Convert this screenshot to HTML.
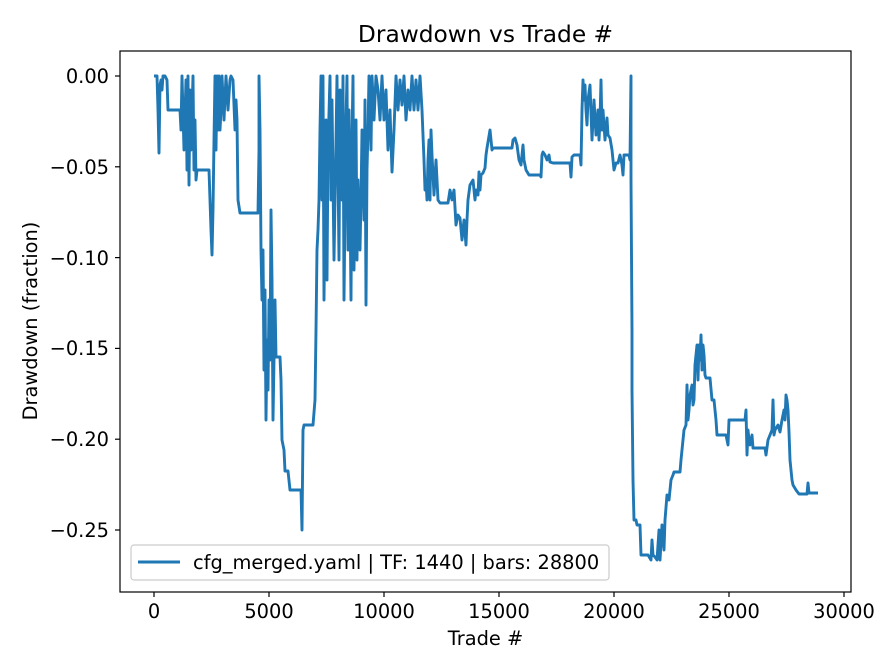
<!DOCTYPE html>
<html><head><meta charset="utf-8"><style>body{margin:0;background:#fff}svg{display:block}text{font-family:"DejaVu Sans","Liberation Sans",sans-serif;fill:#000}</style></head>
<body>
<svg width="896" height="672" viewBox="0 0 896 672" xmlns="http://www.w3.org/2000/svg">
<rect width="896" height="672" fill="#fff"/>
<text x="485.5" y="42" font-size="23.3" text-anchor="middle">Drawdown vs Trade #</text>
<g stroke="#000" stroke-width="1.2">
<line x1="154" y1="592" x2="154" y2="597"/><line x1="269" y1="592" x2="269" y2="597"/><line x1="384" y1="592" x2="384" y2="597"/><line x1="499" y1="592" x2="499" y2="597"/><line x1="614" y1="592" x2="614" y2="597"/><line x1="729" y1="592" x2="729" y2="597"/><line x1="844" y1="592" x2="844" y2="597"/>
<line x1="115" y1="76" x2="120" y2="76"/><line x1="115" y1="166.8" x2="120" y2="166.8"/><line x1="115" y1="257.6" x2="120" y2="257.6"/><line x1="115" y1="348.4" x2="120" y2="348.4"/><line x1="115" y1="439.2" x2="120" y2="439.2"/><line x1="115" y1="530" x2="120" y2="530"/>
</g>
<g font-size="19.4" text-anchor="middle">
<text x="154" y="618">0</text><text x="269" y="618">5000</text><text x="384" y="618">10000</text><text x="499" y="618">15000</text><text x="614" y="618">20000</text><text x="729" y="618">25000</text><text x="844" y="618">30000</text>
</g>
<g font-size="19.4" text-anchor="end">
<text x="109" y="83">0.00</text><text x="109" y="174">−0.05</text><text x="109" y="265">−0.10</text><text x="109" y="355">−0.15</text><text x="109" y="446">−0.20</text><text x="109" y="537">−0.25</text>
</g>
<text x="485.5" y="645" font-size="19.4" text-anchor="middle">Trade #</text>
<text transform="translate(37,321) rotate(-90)" font-size="19.4" text-anchor="middle">Drawdown (fraction)</text>
<polyline fill="none" stroke="#1f77b4" stroke-width="2.9" stroke-linejoin="round" points="154,76 157,76 158,110 159,153 160,85 161,80 162,90 163,76 165,76 167,80 168,110 170,110 180,110 181,130 182,76 184,150 186,80 187,170 188,76 189,185 190,90 191,150 193,76 194,170 195,120 196,180 197,170 198,170 209,170 210,200 211,230 212,255 213,210 214,140 215,76 216,150 217,76 218,130 219,76 220,130 221,110 222,76 224,120 226,76 228,110 230,80 231,76 233,80 235,130 236,100 237,120 238,200 240,213 258,213 259,150 259,76 260,130 261,250 262,300 263,250 264,370 265,290 266,420 267,340 268,390 269,300 270,360 271,210 272,280 273,420 274,360 275,300 276,357 280,357 281,380 282,440 284,450 285,471 288,471 290,490 291,490 301,490 302,530 303,430 304,425 313,425 315,400 316,330 317,250 318,230 319,200 320,130 321,76 322,200 323,76 324,300 326,120 327,280 328,150 330,76 331,200 332,100 334,260 336,140 337,76 339,260 340,90 342,200 343,76 344,300 346,120 347,76 348,250 349,110 350,200 351,300 352,140 353,76 354,270 356,120 357,260 358,180 360,250 361,200 362,130 363,160 364,220 365,100 366,305 367,170 368,130 369,76 371,150 372,76 374,120 376,76 378,90 380,120 382,76 384,120 386,90 388,150 390,110 392,172 394,130 396,76 398,110 400,80 402,105 404,76 406,120 408,90 410,110 412,76 414,110 416,80 418,110 420,76 422,110 424,160 425,190 426,180 427,200 428,160 429,140 430,200 431,130 432,155 434,195 436,160 438,200 440,203 448,203 450,190 452,200 454,190 456,225 458,215 460,218 462,240 464,220 466,245 467,220 468,200 470,185 473,180 475,200 476,190 478,195 479,172 480,190 481,175 483,173 485,168 486,155 487,148 490,130 492,150 493,148 512,148 513,140 515,138 517,145 519,160 521,165 523,145 524,160 526,170 529,175 540,175 541,177 542,155 543,152 545,155 547,160 549,155 550,162 553,163 570,163 571,177 572,157 574,155 580,155 581,165 582,110 583,80 584,100 585,85 586,110 587,125 588,100 590,85 592,140 594,100 596,135 598,110 599,140 600,120 601,80 602,130 603,110 605,140 607,118 608,135 610,138 612,150 614,170 616,163 618,163 620,155 621,160 622,165 623,175 624,155 629,155 630,160 631,76 631,180 632,330 632,390 633,480 634,520 636,520 637,525 640,525 641,555 648,555 651,560 652,540 653,555 655,557 657,560 659,530 660,560 662,525 664,550 665,520 667,495 669,500 671,480 673,475 674,472 680,472 681,460 682,450 684,430 686,425 687,385 688,420 689,410 690,395 692,385 693,405 694,400 695,365 697,345 698,380 699,345 700,360 701,335 702,370 703,345 704,355 705,375 706,378 710,378 712,400 714,400 716,420 717,435 726,435 728,445 729,420 731,420 745,420 746,410 747,455 748,430 749,440 750,445 752,435 753,448 765,448 766,455 768,440 770,435 772,430 773,400 774,435 775,430 778,425 780,432 782,420 784,410 785,420 786,395 787,400 788,410 789,432 790,460 791,470 792,480 793,485 796,490 799,494 807,494 808,483 809,493 818,493"/>
<rect x="120" y="51" width="731" height="541" fill="none" stroke="#000" stroke-width="1.2"/>
<rect x="131" y="545" width="478" height="35" rx="3" fill="#fff" fill-opacity="0.8" stroke="#ccc" stroke-width="1.2"/>
<line x1="138" y1="562" x2="180" y2="562" stroke="#1f77b4" stroke-width="2.9"/>
<text x="193" y="569" font-size="19.4">cfg_merged.yaml | TF: 1440 | bars: 28800</text>
</svg>
</body></html>
